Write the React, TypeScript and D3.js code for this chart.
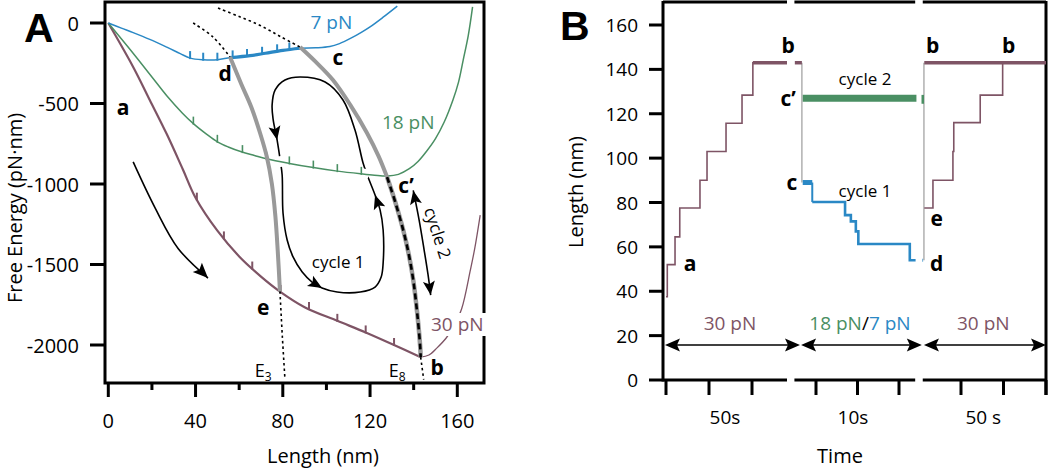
import React from 'react';
import * as d3 from 'd3';

type P = [number, number];

const FONT = "'Open Sans', 'Noto Sans', sans-serif";
const BLUE = '#2a88c5';
const GREEN = '#4a8f63';
const MAROON = '#7e5465';
const GRAY = '#999999';

// ---------- Panel A data: [length (nm), free energy (pN·nm)] ----------
const xTicksA = [0, 40, 80, 120, 160];
const xMinorTicksA = [20, 60, 100, 140];
const yTicksA = [0, -500, -1000, -1500, -2000];

const curve7pN: P[] = [
  [0, 0], [6, -32], [11.4, -60], [19, -102], [26.8, -150], [33, -190], [37.5, -218], [43.5, -228],
  [50, -228], [56, -215], [65, -203], [72, -188], [80, -170], [88, -157], [95, -154], [101.6, -146],
  [106, -128], [111, -96], [116, -58], [120, -24], [126, 36], [132.5, 105],
];
const curve18pN: P[] = [
  [0, 0], [10, -165], [20, -335], [27, -455], [34, -560], [39, -625], [45, -690], [50, -738],
  [55, -770], [61, -800], [67, -823], [73, -845], [83, -872], [94, -898], [105, -920], [116, -937],
  [122, -945], [128, -950], [133, -940], [138, -905], [142, -860], [146, -795], [150, -718],
  [154, -615], [158, -478], [160.5, -370], [162.7, -230], [165, -80], [167, 100],
];
const curve30pN: P[] = [
  [0, 0], [11.4, -273], [19, -478], [26.8, -690], [34.2, -910], [40, -1085], [50, -1290], [60, -1450],
  [70, -1575], [78.7, -1668], [90, -1765], [105, -1850], [118, -1922], [131, -2000], [143, -2075],
  [147, -2062], [150.7, -2018], [155, -1955], [158.5, -1880], [162, -1775], [166, -1534], [168, -1400],
  [170.5, -1193],
];
const steps7pN = [37.5, 43.5, 50, 57, 63.6, 70.5, 77.4, 83];
const steps18pN = [39, 50, 61.5, 72.5, 83, 94, 105, 116];
const steps30pN = [40.6, 53, 66, 79, 92, 105, 118, 131];
const thick7pN: P = [56, 88];
const thick30pN: P = [0, 143];

const lociE3: P[] = [
  [55.8, -211], [61, -380], [65.5, -520], [69.5, -680], [72.7, -832], [75, -1000], [76.6, -1200],
  [77.7, -1420], [78.7, -1668],
];
const lociE3Top: P[] = [[38.9, 0], [48, -87], [55.8, -211]];
const lociE3Bottom: P[] = [[78.7, -1668], [79.8, -1950], [81, -2215]];
const lociE8: P[] = [
  [87.9, -149], [95, -240], [103, -354], [111, -510], [118.6, -683], [124, -830], [127.8, -957],
];
const lociE8Dashed: P[] = [
  [127.8, -957], [131.5, -1110], [135.2, -1286], [137.8, -1440], [139.8, -1596], [141.6, -1800],
  [143, -2012], [143.2, -2075],
];
const lociE8Top: P[] = [[50.3, 93], [60, 40], [69.6, -15], [79, -85], [87.9, -149]];
const lociE8Bottom: P[] = [[143.2, -2075], [144.6, -2215]];

const arrowA: P[] = [[11.4, -863], [21.5, -1150], [32, -1400], [45.7, -1584]];
const cycle1Loop: P[] = [
  [87.9, -335], [81.0, -354], [76.5, -416], [75.1, -509], [75.6, -602], [77.4, -727], [78.8, -851],
  [79.7, -944], [80.1, -1180], [82.0, -1348], [84.7, -1453], [88.9, -1547], [93.4, -1609], [98.0, -1646],
  [104.9, -1671], [115.5, -1671], [122.3, -1640], [125.1, -1578], [126.0, -1491], [126.0, -1286],
  [124.6, -1161], [122.3, -1068], [118.7, -944], [116.8, -870], [113.1, -665], [107.6, -478], [99.4, -366],
];
const cycle1Heads = [5, 13, 21];
const cycle1Gaps = [78.9, 117.2];
const cycle2Arrow: P[] = [[139.8, -1040], [142.5, -1224], [144.8, -1410], [146.6, -1565], [147.8, -1690]];

// ---------- Panel B data ----------
const yTicksB = [0, 20, 40, 60, 80, 100, 120, 140, 160];
// steps: [t start (s), t end (s), length (nm)]
const sec1Rise: [number, number, number][] = [
  [0, 1.5, 37.5], [1.5, 10.5, 52], [10.5, 16, 64.5], [16, 39.5, 77.5], [39.5, 47.7, 90],
  [47.7, 69.8, 103], [69.8, 88.4, 115.7], [88.4, 101, 128.4], [101, 102, 143],
];
const sec1Plateau: [number, number, number] = [101, 140.7, 143];
const sec2Start: [number, number, number] = [-5.1, -3.4, 143];
const sec2Drop: [number, number, number] = [-3.4, 143, 89];
const sec2Cycle2: [number, number, number] = [-3.2, 24.2, 127];
const sec2Cycle1: [number, number, number][] = [
  [-0.9, 7, 80.2], [7, 8.4, 74.3], [8.4, 9.6, 71.5], [9.6, 10.2, 67], [10.2, 22.6, 61.3], [22.6, 24, 54],
];
const sec2Cycle1Start: [number, number, number] = [-3.2, -0.9, 89];
const sec3Jump: [number, number, number] = [-43.6, 54, 143];
const sec3Plateau: [number, number, number] = [-43.2, 100, 143];
const sec3Rise: [number, number, number][] = [
  [-43.2, -33, 77.5], [-33, -9.5, 90], [-9.5, -8.5, 103], [-8.5, 22.6, 116], [22.6, 49, 128.4], [49, 50, 143],
];

const sections = [
  { domain: [0, 100], range: [666, 752], extent: [-3.5, 140.7], ticks: [0, 50, 100], label: '50s', labelT: 68.6, arrow: [-1.2, 155.8], force: 't30', forceT: 74.4 },
  { domain: [0, 20], range: [816, 899], extent: [-5.2, 23.9], ticks: [0, 10, 20], label: '10s', labelT: 8.9, arrow: [-3.6, 25.5], force: 'mix', forceT: 10.6 },
  { domain: [0, 100], range: [961, 1046], extent: [-45, 100], ticks: [0, 50, 100], label: '50 s', labelT: 26.2, arrow: [-43.6, 100], force: 't30', forceT: 26.2 },
];

function energyAt(curve: P[], L: number) {
  const i = Math.max(1, Math.min(curve.length - 1, d3.bisector((d: P) => d[0]).right(curve, L)));
  const a = curve[i - 1], b = curve[i];
  return a[1] + ((b[1] - a[1]) * (L - a[0])) / (b[0] - a[0]);
}

function head(tip: P, from: P, len = 11, hw = 4.5) {
  const dx = tip[0] - from[0], dy = tip[1] - from[1];
  const n = Math.hypot(dx, dy) || 1;
  const ux = dx / n, uy = dy / n;
  const bx = tip[0] - ux * len, by = tip[1] - uy * len;
  const nx = -uy, ny = ux;
  return `M${tip[0]},${tip[1]}L${bx + nx * hw},${by + ny * hw}L${bx + ux * 3},${by + uy * 3}L${bx - nx * hw},${by - ny * hw}Z`;
}

export default function App() {
  const xA = d3.scaleLinear().domain([0, 160]).range([108.3, 457.3]);
  const yA = d3.scaleLinear().domain([0, -2000]).range([23, 345]);
  const px = (d: P): P => [xA(d[0]), yA(d[1])];
  const smooth = d3.line<P>().x(d => xA(d[0])).y(d => yA(d[1])).curve(d3.curveCatmullRom.alpha(0.5));
  const loopLine = d3.line<P>().x(d => xA(d[0])).y(d => yA(d[1])).curve(d3.curveCatmullRomClosed.alpha(0.5));

  const yB = d3.scaleLinear().domain([0, 160]).range([380, 25]);
  const sx = sections.map(s => d3.scaleLinear().domain(s.domain).range(s.range));
  const stepPath = (sc: d3.ScaleLinear<number, number>, steps: [number, number, number][]) =>
    d3.line<P>().x(d => sc(d[0])).y(d => yB(d[1]))(steps.flatMap(([a, b, v]) => [[a, v], [b, v]] as P[]));
  const hline = (sc: d3.ScaleLinear<number, number>, s: [number, number, number]) =>
    `M${sc(s[0])},${yB(s[2])}H${sc(s[1])}`;
  const vline = (sc: d3.ScaleLinear<number, number>, s: [number, number, number]) =>
    `M${sc(s[0])},${yB(s[1])}V${yB(s[2])}`;

  const tickMarks = (curve: P[], Ls: number[], color: string, w: number) =>
    Ls.map((L, i) => {
      const x = xA(L), y = yA(energyAt(curve, L));
      return <path key={i} d={`M${x},${y + 1}V${y - 7}`} stroke={color} strokeWidth={w} fill="none" />;
    });

  const labelA = (t: string, L: number, E: number, bold = true, extra: any = {}) => (
    <text x={xA(L)} y={yA(E)} fontFamily={FONT} fontSize={21} fontWeight={bold ? 700 : 400}
      textAnchor="middle" dominantBaseline="central" {...extra}>{t}</text>
  );

  const loopPx = cycle1Loop.map(px);
  const arrPx = arrowA.map(px);
  const c2Px = cycle2Arrow.map(px);

  const bLabel = (t: string, si: number, tt: number, v: number) => (
    <text x={sx[si](tt)} y={yB(v)} fontFamily={FONT} fontSize={21} fontWeight={700} textAnchor="middle" dominantBaseline="central">{t}</text>
  );

  return (
    <svg width={1050} height={470} style={{ position: 'absolute', left: 0, top: 0, background: '#fff' }}>
      {/* ================= Panel A ================= */}
      <text x={24} y={42} fontFamily="'Liberation Sans', Arial, sans-serif" fontWeight={700} fontSize={41}>A</text>
      <path d="M105,2H484V383H105Z" fill="none" stroke="#000" strokeWidth={3} />
      {yTicksA.map(v => (
        <g key={v}>
          <line x1={90} x2={105} y1={yA(v)} y2={yA(v)} stroke="#000" strokeWidth={3} />
          <text x={79} y={yA(v)} fontFamily={FONT} fontSize={20} textAnchor="end" dominantBaseline="central">{v}</text>
        </g>
      ))}
      {xTicksA.map(v => (
        <g key={v}>
          <line x1={xA(v)} x2={xA(v)} y1={383} y2={397} stroke="#000" strokeWidth={3} />
          <text x={xA(v)} y={420} fontFamily={FONT} fontSize={20} textAnchor="middle" dominantBaseline="central">{v}</text>
        </g>
      ))}
      {xMinorTicksA.map(v => (
        <line key={v} x1={xA(v)} x2={xA(v)} y1={383} y2={390} stroke="#000" strokeWidth={3} />
      ))}
      <text x={323} y={455} fontFamily={FONT} fontSize={20} textAnchor="middle" dominantBaseline="central">Length (nm)</text>
      <text transform="translate(14,208) rotate(-90)" fontFamily={FONT} fontSize={20} textAnchor="middle" dominantBaseline="central">Free Energy (pN·nm)</text>

      {/* arrows and cycle 1 loop */}
      <path d={smooth(arrowA) || ''} fill="none" stroke="#000" strokeWidth={1.6} />
      <path d={head(arrPx[arrPx.length - 1], arrPx[arrPx.length - 2], 15, 6.5)} fill="#000" />
      <path d={loopLine(cycle1Loop) || ''} fill="none" stroke="#000" strokeWidth={1.6} />
      {cycle1Heads.map(i => (
        <path key={i} d={head(loopPx[i], loopPx[i - 1], 14, 6)} fill="#000" />
      ))}
      <path d={smooth(cycle2Arrow) || ''} fill="none" stroke="#000" strokeWidth={1.6} />
      <path d={head(c2Px[0], c2Px[1], 14, 6)} fill="#000" />
      <path d={head(c2Px[c2Px.length - 1], c2Px[c2Px.length - 2], 14, 6)} fill="#000" />
      {cycle1Gaps.map(L => (
        <circle key={L} cx={xA(L)} cy={yA(energyAt(curve18pN, L))} r={5.5} fill="#fff" />
      ))}
      {labelA('cycle 1', 105.4, -1484, false, { fontSize: 17 })}
      <text transform={`translate(${xA(151.2)},${yA(-1304)}) rotate(72)`} fontFamily={FONT} fontSize={17}
        textAnchor="middle" dominantBaseline="central">cycle 2</text>

      {/* energy curves */}
      <path d={smooth(curve30pN.filter(d => d[0] >= thick30pN[1])) || ''} fill="none" stroke={MAROON} strokeWidth={1.3} />
      <path d={smooth(curve30pN.filter(d => d[0] <= thick30pN[1])) || ''} fill="none" stroke={MAROON} strokeWidth={2.2} />
      {tickMarks(curve30pN, steps30pN, MAROON, 2)}
      <path d={smooth(curve18pN) || ''} fill="none" stroke={GREEN} strokeWidth={1.5} />
      {tickMarks(curve18pN, steps18pN, GREEN, 1.6)}
      <path d={smooth(curve7pN) || ''} fill="none" stroke={BLUE} strokeWidth={1.5} />
      <path d={smooth(curve7pN.filter(d => d[0] >= thick7pN[0] && d[0] <= thick7pN[1])) || ''} fill="none" stroke={BLUE} strokeWidth={3.2} />
      {tickMarks(curve7pN, steps7pN, BLUE, 2)}

      {/* loci of minima */}
      <path d={smooth(lociE3Top) || ''} fill="none" stroke="#000" strokeWidth={1.6} strokeDasharray="2.5,3" />
      <path d={smooth(lociE3) || ''} fill="none" stroke={GRAY} strokeWidth={4} />
      <path d={smooth(lociE3Bottom) || ''} fill="none" stroke="#000" strokeWidth={1.6} strokeDasharray="2.5,3" />
      <path d={smooth(lociE8Top) || ''} fill="none" stroke="#000" strokeWidth={1.6} strokeDasharray="2.5,3" />
      <path d={smooth(lociE8) || ''} fill="none" stroke={GRAY} strokeWidth={4} />
      <path d={smooth(lociE8Dashed) || ''} fill="none" stroke={GRAY} strokeWidth={4.5} />
      <path d={smooth(lociE8Dashed) || ''} fill="none" stroke="#000" strokeWidth={2.6} strokeDasharray="6,4" />
      <path d={smooth(lociE8Bottom) || ''} fill="none" stroke="#000" strokeWidth={1.6} strokeDasharray="2.5,3" />

      {/* labels */}
      {labelA('a', 6.8, -522)}
      {labelA('d', 53.6, -311)}
      {labelA('c', 105.3, -211)}
      {labelA('c’', 136.5, -1006)}
      {labelA('e', 71, -1764)}
      {labelA('b', 150.8, -2137)}
      <text x={xA(71)} y={yA(-2155)} fontFamily={FONT} fontSize={18} textAnchor="middle" dominantBaseline="central">E<tspan fontSize={12} dy={6}>3</tspan></text>
      <text x={xA(132.4)} y={yA(-2155)} fontFamily={FONT} fontSize={18} textAnchor="middle" dominantBaseline="central">E<tspan fontSize={12} dy={6}>8</tspan></text>
      <text x={xA(102.3)} y={yA(6)} fill={BLUE} fontFamily={FONT} fontSize={19} textAnchor="middle" dominantBaseline="central">7 pN</text>
      <text x={xA(137.5)} y={yA(-615)} fill={GREEN} fontFamily={FONT} fontSize={19} textAnchor="middle" dominantBaseline="central">18 pN</text>
      <rect x={428} y={313} width={58} height={23} fill="#fff" />
      <text x={xA(160)} y={yA(-1870)} fill={MAROON} fontFamily={FONT} fontSize={19} textAnchor="middle" dominantBaseline="central">30 pN</text>

      {/* ================= Panel B ================= */}
      <text x={560} y={40} fontFamily="'Liberation Sans', Arial, sans-serif" fontWeight={700} fontSize={41}>B</text>
      <line x1={663} x2={663} y1={1} y2={381.5} stroke="#000" strokeWidth={3} />
      {yTicksB.map(v => (
        <g key={v}>
          <line x1={649} x2={663} y1={yB(v)} y2={yB(v)} stroke="#000" strokeWidth={3} />
          <text x={638} y={yB(v)} fontFamily={FONT} fontSize={19} textAnchor="end" dominantBaseline="central">{v}</text>
        </g>
      ))}
      {sections.map((s, i) => {
        const sc = sx[i];
        const x0 = i === 0 ? 663 : sc(s.extent[0]);
        const x1 = sc(s.extent[1]);
        return (
          <g key={i}>
            <line x1={x0} x2={x1} y1={2} y2={2} stroke="#000" strokeWidth={3} />
            <line x1={x0} x2={x1} y1={380} y2={380} stroke="#000" strokeWidth={3} />
            {s.ticks.map(t => (
              <line key={t} x1={sc(t)} x2={sc(t)} y1={380} y2={395} stroke="#000" strokeWidth={3} />
            ))}
            <text x={sc(s.labelT)} y={417} fontFamily={FONT} fontSize={19} textAnchor="middle" dominantBaseline="central">{s.label}</text>
            <line x1={sc(s.arrow[0]) + 6} x2={sc(s.arrow[1]) - 6} y1={yB(15.8)} y2={yB(15.8)} stroke="#000" strokeWidth={1.6} />
            <path d={head([sc(s.arrow[0]), yB(15.8)], [sc(s.arrow[1]), yB(15.8)], 15, 6.5)} fill="#000" />
            <path d={head([sc(s.arrow[1]), yB(15.8)], [sc(s.arrow[0]), yB(15.8)], 15, 6.5)} fill="#000" />
            <text x={sc(s.forceT)} y={yB(25.7)} fontFamily={FONT} fontSize={19} textAnchor="middle" dominantBaseline="central">
              {s.force === 't30' ? <tspan fill={MAROON}>30 pN</tspan> : (
                <>
                  <tspan fill={GREEN}>18 pN</tspan><tspan fill="#000">/</tspan><tspan fill={BLUE}>7 pN</tspan>
                </>
              )}
            </text>
          </g>
        );
      })}
      <line x1={1046} x2={1046} y1={1} y2={395} stroke="#000" strokeWidth={3} />
      <text x={840} y={455} fontFamily={FONT} fontSize={20} textAnchor="middle" dominantBaseline="central">Time</text>
      <text transform="translate(575,192) rotate(-90)" fontFamily={FONT} fontSize={20} textAnchor="middle" dominantBaseline="central">Length (nm)</text>

      {/* section 1 */}
      <path d={stepPath(sx[0], sec1Rise) || ''} fill="none" stroke={MAROON} strokeWidth={1.6} />
      <path d={hline(sx[0], sec1Plateau)} fill="none" stroke={MAROON} strokeWidth={3.5} />
      {/* section 2 */}
      <path d={vline(sx[1], sec2Drop)} fill="none" stroke="#aaa" strokeWidth={1.4} />
      <path d={hline(sx[1], sec2Start)} fill="none" stroke={MAROON} strokeWidth={3.5} />
      <path d={hline(sx[1], sec2Cycle2)} fill="none" stroke={GREEN} strokeWidth={7} />
      <path d={hline(sx[1], sec2Cycle1Start)} fill="none" stroke={BLUE} strokeWidth={5} />
      <path d={`M${sx[1](sec2Cycle1Start[1])},${yB(sec2Cycle1Start[2])}V${yB(sec2Cycle1[0][2])}`} fill="none" stroke={BLUE} strokeWidth={2} />
      <path d={stepPath(sx[1], sec2Cycle1) || ''} fill="none" stroke={BLUE} strokeWidth={2.6} />
      {/* section 3 */}
      <path d={vline(sx[2], sec3Jump)} fill="none" stroke="#aaa" strokeWidth={1.4} />
      <path d={`M${sx[2](-45.4)},${yB(54)}H${sx[2](-44.6)}`} stroke={BLUE} strokeWidth={3} />
      <path d={`M${sx[2](-45)},${yB(124.5)}V${yB(128.5)}`} stroke={GREEN} strokeWidth={2.5} />
      <path d={stepPath(sx[2], sec3Rise) || ''} fill="none" stroke={MAROON} strokeWidth={1.6} />
      <path d={hline(sx[2], sec3Plateau)} fill="none" stroke={MAROON} strokeWidth={3.5} />

      {/* labels B */}
      {bLabel('a', 0, 27.9, 52.7)}
      {bLabel('b', 0, 142, 151)}
      {bLabel('c’', 0, 142, 127)}
      {bLabel('c', 0, 146.5, 89.2)}
      <text x={sx[1](11.8)} y={yB(136)} fontFamily={FONT} fontSize={17} textAnchor="middle" dominantBaseline="central">cycle 2</text>
      <text x={sx[1](11.8)} y={yB(85.6)} fontFamily={FONT} fontSize={17} textAnchor="middle" dominantBaseline="central">cycle 1</text>
      {bLabel('b', 2, -33.3, 151)}
      {bLabel('b', 2, 56, 151)}
      {bLabel('e', 2, -28.6, 73)}
      {bLabel('d', 2, -28.6, 52.7)}
    </svg>
  );
}
